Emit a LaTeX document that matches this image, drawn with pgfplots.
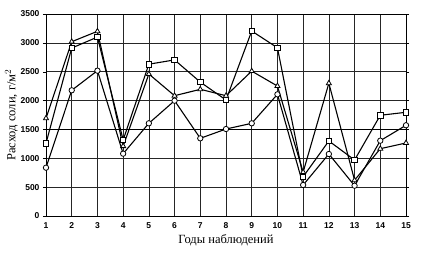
\documentclass[border=0pt]{standalone}
\usepackage{fontspec}
\setmainfont{Liberation Serif}
\setsansfont{Liberation Sans}
\usepackage{pgfplots}
\pgfplotsset{compat=1.18}
\begin{document}
\begin{tikzpicture}
\begin{axis}[
  scale only axis,
  width=360pt, height=202pt,
  xmin=1, xmax=15, ymin=0, ymax=3500,
  xtick={1,...,15}, ytick={0,500,...,3500},
  grid=major,
  major grid style={black!85, line width=0.55pt},
  axis line style={black, line width=0.7pt},
  tick style={black},
  xtick style={draw=none},
  ytick align=outside,
  major tick length=3pt,
  /pgf/number format/assume math mode=true,
  /pgf/number format/1000 sep={},
  ticklabel style={font=\sffamily\bfseries\fontsize{8.5}{9}\selectfont},
  xticklabel style={yshift=-3pt},
  xlabel={Годы наблюдений},
  ylabel={Расход соли, г/м$^2$},
  label style={font=\fontsize{12.5}{13}\selectfont},
  xlabel style={yshift=1pt},
  ylabel style={yshift=-4pt},
  every axis plot/.append style={black, line width=1.1pt, mark size=2.7pt, mark options={fill=white, solid, line width=0.8pt}},
  clip=false,
]
\addplot[black, line width=1.4pt, forget plot] coordinates {(1,1500) (15,1500)};
\addplot[mark=square*] coordinates {
(1,1260) (2,2910) (3,3100) (4,1317) (5,2630) (6,2705) (7,2320) (8,2010) (9,3205) (10,2915) (11,680) (12,1300) (13,970) (14,1745) (15,1797)};
\addplot[mark=triangle*, mark size=2.9pt] coordinates {
(1,1693) (2,3020) (3,3200) (4,1210) (5,2460) (6,2084) (7,2195) (8,2084) (9,2510) (10,2252) (11,760) (12,2300) (13,620) (14,1166) (15,1265)};
\addplot[mark=*] coordinates {
(1,837) (2,2178) (3,2518) (4,1080) (5,1606) (6,1998) (7,1346) (8,1507) (9,1606) (10,2108) (11,537) (12,1074) (13,525) (14,1305) (15,1572)};
\end{axis}
\path[use as bounding box] (-46pt,-37pt) rectangle (377pt,216pt);
\end{tikzpicture}
\end{document}
